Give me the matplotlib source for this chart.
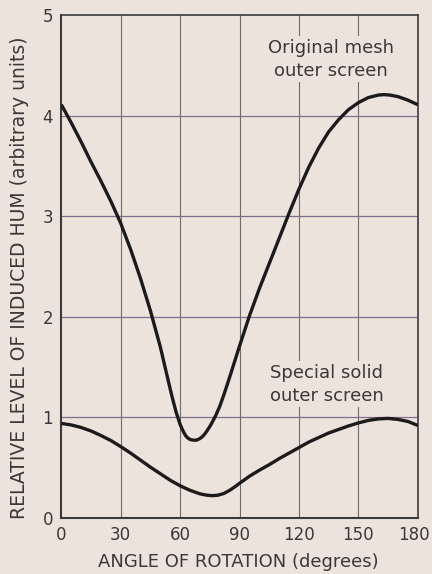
import matplotlib
matplotlib.use("Agg")
import matplotlib.pyplot as plt
import matplotlib.transforms as mtransforms

# ---- data ----
mesh_angle = [0, 5, 10, 15, 20, 25, 30, 35, 40, 45, 50, 55, 56, 58, 60, 61, 62, 63, 64,
              65, 66, 67, 68, 69, 70, 71, 72, 73, 74, 75, 76, 78, 80, 82, 85, 90, 95,
              100, 105, 110, 115, 120, 125, 130, 135, 140, 145, 150, 155, 160, 163,
              166, 170, 175, 180]
mesh_level = [4.11, 3.93, 3.74, 3.54, 3.35, 3.15, 2.93, 2.67, 2.38, 2.06, 1.70, 1.28,
              1.20, 1.05, 0.93, 0.885, 0.845, 0.812, 0.793, 0.781, 0.776, 0.773, 0.774,
              0.78, 0.79, 0.805, 0.825, 0.85, 0.88, 0.91, 0.945, 1.02, 1.11, 1.22, 1.40,
              1.71, 2.01, 2.28, 2.53, 2.78, 3.03, 3.27, 3.49, 3.68, 3.84, 3.96, 4.06,
              4.13, 4.18, 4.205, 4.21, 4.205, 4.19, 4.155, 4.11]

solid_angle = [0, 5, 10, 15, 20, 25, 30, 35, 40, 45, 50, 55, 60, 65, 70, 73, 76, 79,
               82, 85, 88, 90, 95, 100, 105, 110, 115, 120, 125, 130, 135, 140, 145,
               150, 155, 160, 165, 170, 175, 180]
solid_level = [0.94, 0.925, 0.90, 0.865, 0.82, 0.77, 0.71, 0.645, 0.575, 0.505, 0.44,
               0.375, 0.32, 0.275, 0.24, 0.228, 0.222, 0.226, 0.243, 0.275, 0.315,
               0.345, 0.415, 0.475, 0.53, 0.59, 0.645, 0.70, 0.755, 0.80, 0.845, 0.88,
               0.915, 0.945, 0.97, 0.985, 0.99, 0.98, 0.96, 0.92]

x_ticks = [0, 30, 60, 90, 120, 150, 180]
y_ticks = [0, 1, 2, 3, 4, 5]
x_label = "ANGLE OF ROTATION (degrees)"
y_label = "RELATIVE LEVEL OF INDUCED HUM (arbitrary units)"
mesh_text = "Original mesh\nouter screen"
solid_text = "Special solid\nouter screen"

# ---- styling ----
bg = "#ece3dc"
ink = "#3a3838"
fig = plt.figure(figsize=(4.32, 5.74), dpi=100, facecolor=bg)
ax = fig.add_axes([0.142, 0.0976, 0.825, 0.876], facecolor=bg)

ax.set_xlim(0, 180)
ax.set_ylim(0, 5)
ax.set_xticks(x_ticks)
ax.set_yticks(y_ticks)
ax.tick_params(length=0, labelsize=12, colors=ink, pad=6)

# nudge the last x tick label left so it stays inside the figure
lbls = ax.get_xticklabels()
off = mtransforms.ScaledTranslation(-4 / 100, 0, fig.dpi_scale_trans)
lbls[-1].set_transform(lbls[-1].get_transform() + off)

for x in x_ticks[1:-1]:
    ax.axvline(x, color="#6f6b69", lw=0.8, zorder=1)
for y in y_ticks[1:-1]:
    ax.axhline(y, color="#7d6f8c", lw=0.9, zorder=1)

for s in ax.spines.values():
    s.set_color("#3c3b3b")
    s.set_linewidth(1.2)
ax.spines["left"].set_linewidth(1.5)
ax.spines["bottom"].set_linewidth(1.5)

ax.plot(mesh_angle, mesh_level, color="#1c1a1a", lw=2.4, zorder=3,
        solid_capstyle="butt", solid_joinstyle="round")
ax.plot(solid_angle, solid_level, color="#1c1a1a", lw=2.4, zorder=3,
        solid_capstyle="butt", solid_joinstyle="round")

tb = dict(facecolor=bg, edgecolor="none", pad=2)
ax.text(136.3, 4.56, mesh_text, ha="center", va="center", fontsize=13,
        color=ink, linespacing=1.33, bbox=tb, zorder=2)
ax.text(134.0, 1.33, solid_text, ha="center", va="center", fontsize=13,
        color=ink, linespacing=1.33, bbox=tb, zorder=2)

fig.text(0.552, 0.021, x_label, ha="center", va="center", fontsize=13, color=ink)
fig.text(0.044, 0.516, y_label, ha="center", va="center", rotation=90,
         fontsize=13.5, color=ink)

fig.savefig("out.png", dpi=100, facecolor=bg)
